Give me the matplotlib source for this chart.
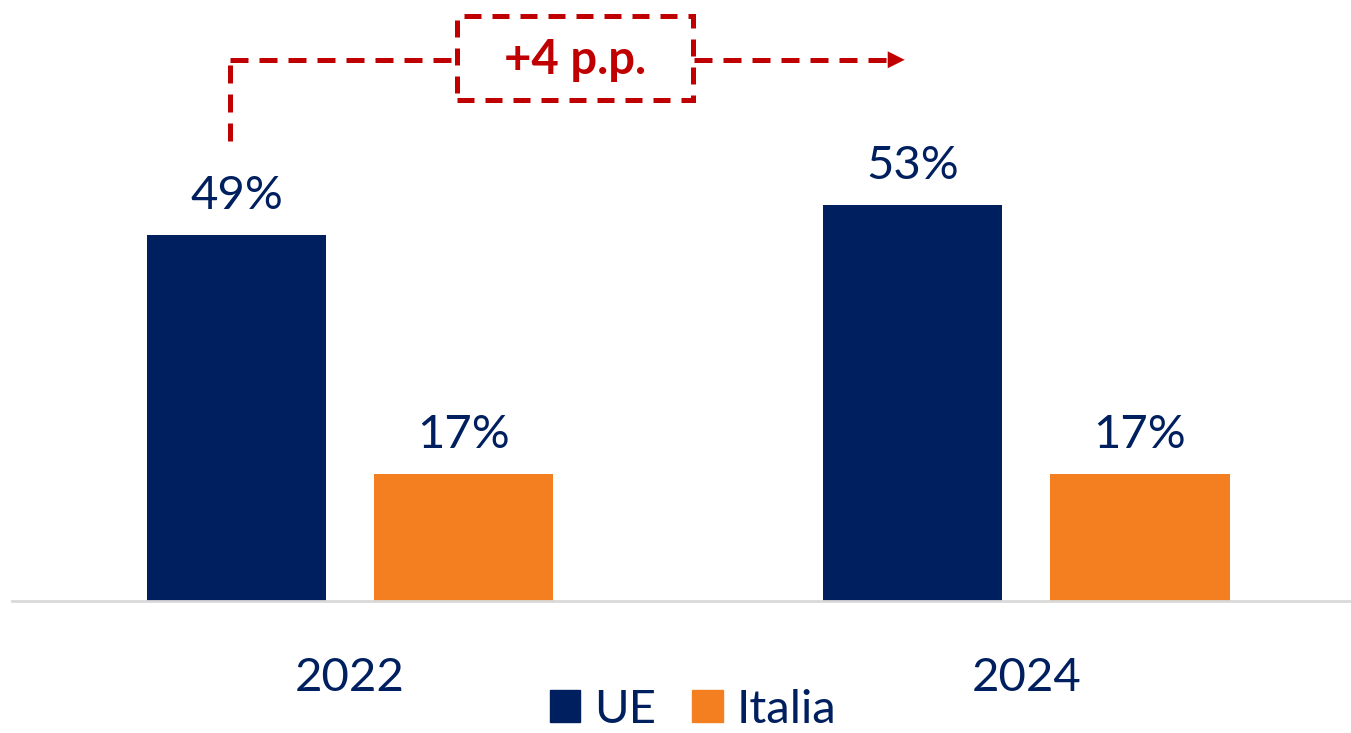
import matplotlib
matplotlib.use("Agg")
import matplotlib.pyplot as plt
from matplotlib.patches import Rectangle, Patch
import numpy as np

years = ["2022", "2024"]
ue = [49, 53]
italia = [17, 17]
series_names = ["UE", "Italia"]
delta_label = "+4 p.p."

NAVY = "#001F5F"
ORANGE = "#F47F20"
RED = "#C00000"
FONT = ["Lato", "DejaVu Sans"]
FS = 34

W, H = 1351, 733
fig = plt.figure(figsize=(W / 100, H / 100), dpi=100)
ax = fig.add_axes([12 / W, 132 / H, 1 - 12 / W, 1 - 132 / H])

x = np.arange(len(years))
bw = 0.265
off = 0.168
b1 = ax.bar(x - off, ue, bw, color=NAVY, label=series_names[0])
b2 = ax.bar(x + off, italia, bw, color=ORANGE, label=series_names[1])

ax.set_xlim(-0.5, 1.48)
ax.set_ylim(0, 80.4)

for bars, vals in ((b1, ue), (b2, italia)):
    for rect, v in zip(bars, vals):
        ax.text(rect.get_x() + rect.get_width() / 2, v + 2.4, f"{v}%",
                ha="center", va="bottom", fontsize=FS, color=NAVY, family=FONT)

for s in ["top", "right", "left"]:
    ax.spines[s].set_visible(False)
ax.spines["bottom"].set_color("#D9D9D9")
ax.spines["bottom"].set_linewidth(2)
ax.set_yticks([])
ax.set_xticks(x)
ax.set_xticklabels(years, fontsize=FS, color=NAVY, family=FONT)
ax.tick_params(axis="x", length=0, pad=40)

# annotation: dashed connector with arrow
y_line = 72.4
x0 = x[0] - off - 0.01
x1 = x[1] - off - 0.04
lw = 3.6
ax.plot([x0, x0], [ue[0] + 12.5, y_line], color=RED, lw=lw, dashes=(3.6, 2.2), dash_capstyle="butt")
ax.plot([x0, x1], [y_line, y_line], color=RED, lw=lw, dashes=(3.6, 2.2), dash_capstyle="butt")
ax.annotate("", xy=(x1 + 0.028, y_line), xytext=(x1, y_line),
            arrowprops=dict(arrowstyle="-|>,head_length=1.2,head_width=0.6", color=RED, lw=0.1,
                            shrinkA=0, shrinkB=0))

# box
bx0 = (457 - 350) / 676
bx1 = (693 - 350) / 676
by0 = (601 - 100) / 7.47
by1 = (601 - 16) / 7.47
rect = Rectangle((bx0, by0), bx1 - bx0, by1 - by0, facecolor="white", edgecolor=RED,
                 lw=lw, linestyle=(0, (3.4, 2.2)), zorder=5)
ax.add_patch(rect)
ax.text((bx0 + bx1) / 2, (by0 + by1) / 2 - 0.3, delta_label, ha="center", va="center",
        fontsize=FS, fontweight="bold", color=RED, family=FONT, zorder=6)

handles = [Patch(color=NAVY), Patch(color=ORANGE)]
leg = fig.legend(handles, series_names, loc="lower center", bbox_to_anchor=(0.513, -0.055), ncol=2,
                 frameon=False, handlelength=0.65, handleheight=0.65,
                 handletextpad=0.3, columnspacing=0.75, prop={"family": FONT, "size": FS})
for t in leg.get_texts():
    t.set_color(NAVY)

fig.savefig("out.png", dpi=100)
